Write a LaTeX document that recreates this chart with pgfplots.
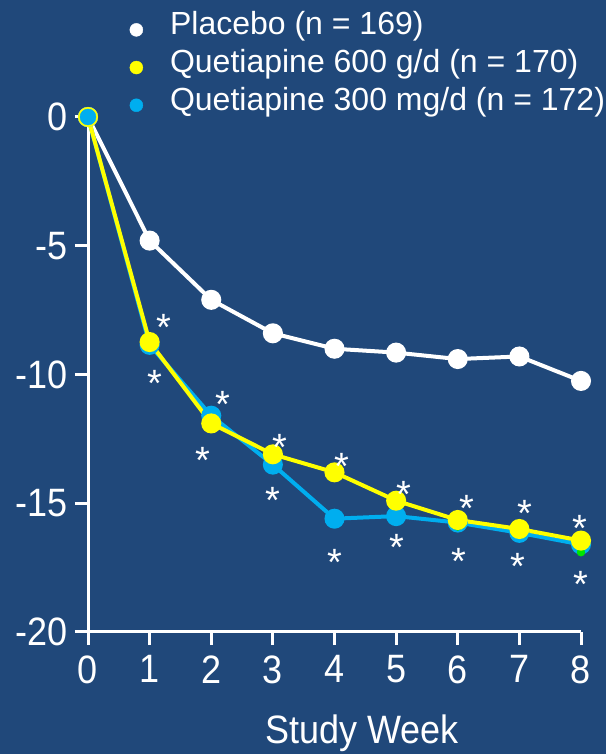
\documentclass[border=0pt]{standalone}
\usepackage{fontspec}
\setmainfont{Liberation Sans}
\usepackage{pgfplots}
\pgfplotsset{compat=1.18}
\definecolor{bg}{RGB}{32,72,122}
\definecolor{qblue}{RGB}{0,174,239}
\definecolor{qyellow}{RGB}{255,255,0}
\definecolor{qgreen}{RGB}{0,230,0}
\begin{document}
\begin{tikzpicture}[x=1pt,y=1pt]
\fill[bg] (0,0) rectangle (606,754);
\useasboundingbox (0,0) rectangle (606,754);
\begin{axis}[
  at={(88pt,122pt)}, anchor=south west,
  scale only axis, width=493pt, height=515pt,
  xmin=0, xmax=8, ymin=-20, ymax=0,
  xtick={0,1,2,3,4,5,6,7,8}, ytick={-20,-15,-10,-5,0},
  axis x line*=bottom, axis y line*=left,
  axis line style={white, line width=3pt},
  tick style={white, line width=3pt},
  major tick length=13pt, tick align=outside,
  /pgf/number format/assume math mode=true,
  ticklabel style={text=white, font=\fontsize{36}{40}\selectfont, yscale=1.1},
  xticklabel style={yshift=-6pt},
  yticklabel style={xshift=-4pt},
  xlabel={Study Week},
  xlabel style={text=white, font=\fontsize{36}{40}\selectfont, yscale=1.1, at={(axis description cs:0.556,0)}, anchor=north, yshift=-72pt},
  clip=false,
  legend style={draw=none, fill=none, text=white, font=\fontsize{32}{36}\selectfont,
    at={(axis description cs:0.078,1.211)}, anchor=north west, row sep=11pt, column sep=26pt,
    nodes={inner sep=1pt}},
  legend cell align=left,
  legend image code/.code={\fill[#1] (0.3cm,-6pt) circle (6.5pt);},
]
\addlegendimage{color=white}
\addlegendentry{Placebo (n = 169)}
\addlegendimage{color=qyellow}
\addlegendentry{Quetiapine 600 g/d (n = 170)}
\addlegendimage{color=qblue}
\addlegendentry{Quetiapine 300 mg/d (n = 172)}

% Placebo
\addplot[white, line width=4pt, mark=*, mark size=8pt, forget plot]
  coordinates {(0,0) (1,-4.8) (2,-7.1) (3,-8.4) (4,-9.0) (5,-9.15) (6,-9.4) (7,-9.3) (8,-10.25)};
% Quetiapine 300
\addplot[qblue, line width=4pt, mark=*, mark size=8pt, forget plot]
  coordinates {(0,0) (1,-8.85) (2,-11.6) (3,-13.5) (4,-15.6) (5,-15.5) (6,-15.75) (7,-16.15) (8,-16.6)};
% hidden green points
\addplot[qgreen, only marks, mark=*, mark size=4pt, forget plot]
  coordinates {(6,-15.9) (8,-16.9)};
% Quetiapine 600
\addplot[qyellow, line width=4pt, mark=*, mark size=8pt, forget plot]
  coordinates {(0,0) (1,-8.74) (2,-11.9) (3,-13.1) (4,-13.8) (5,-14.9) (6,-15.65) (7,-16.0) (8,-16.45)};
% blue start marker on top
\addplot[qblue, only marks, mark=*, mark size=8pt, forget plot]
  coordinates {(0,0)};
% asterisks
\addplot[white, only marks, mark=text, text mark={\color{white}\fontsize{38}{38}\selectfont *}, forget plot]
  coordinates {(1.23,-8.18) (2.19,-11.17) (3.12,-12.84) (4.12,-13.58) (5.13,-14.67) (6.15,-15.21) (7.09,-15.41) (7.99,-15.99)
               (1.09,-10.36) (1.87,-13.35) (3.0,-14.9) (4.01,-17.3) (5.02,-16.73) (6.02,-17.27) (6.98,-17.47) (8.0,-18.16)};
\end{axis}
\end{tikzpicture}
\end{document}
